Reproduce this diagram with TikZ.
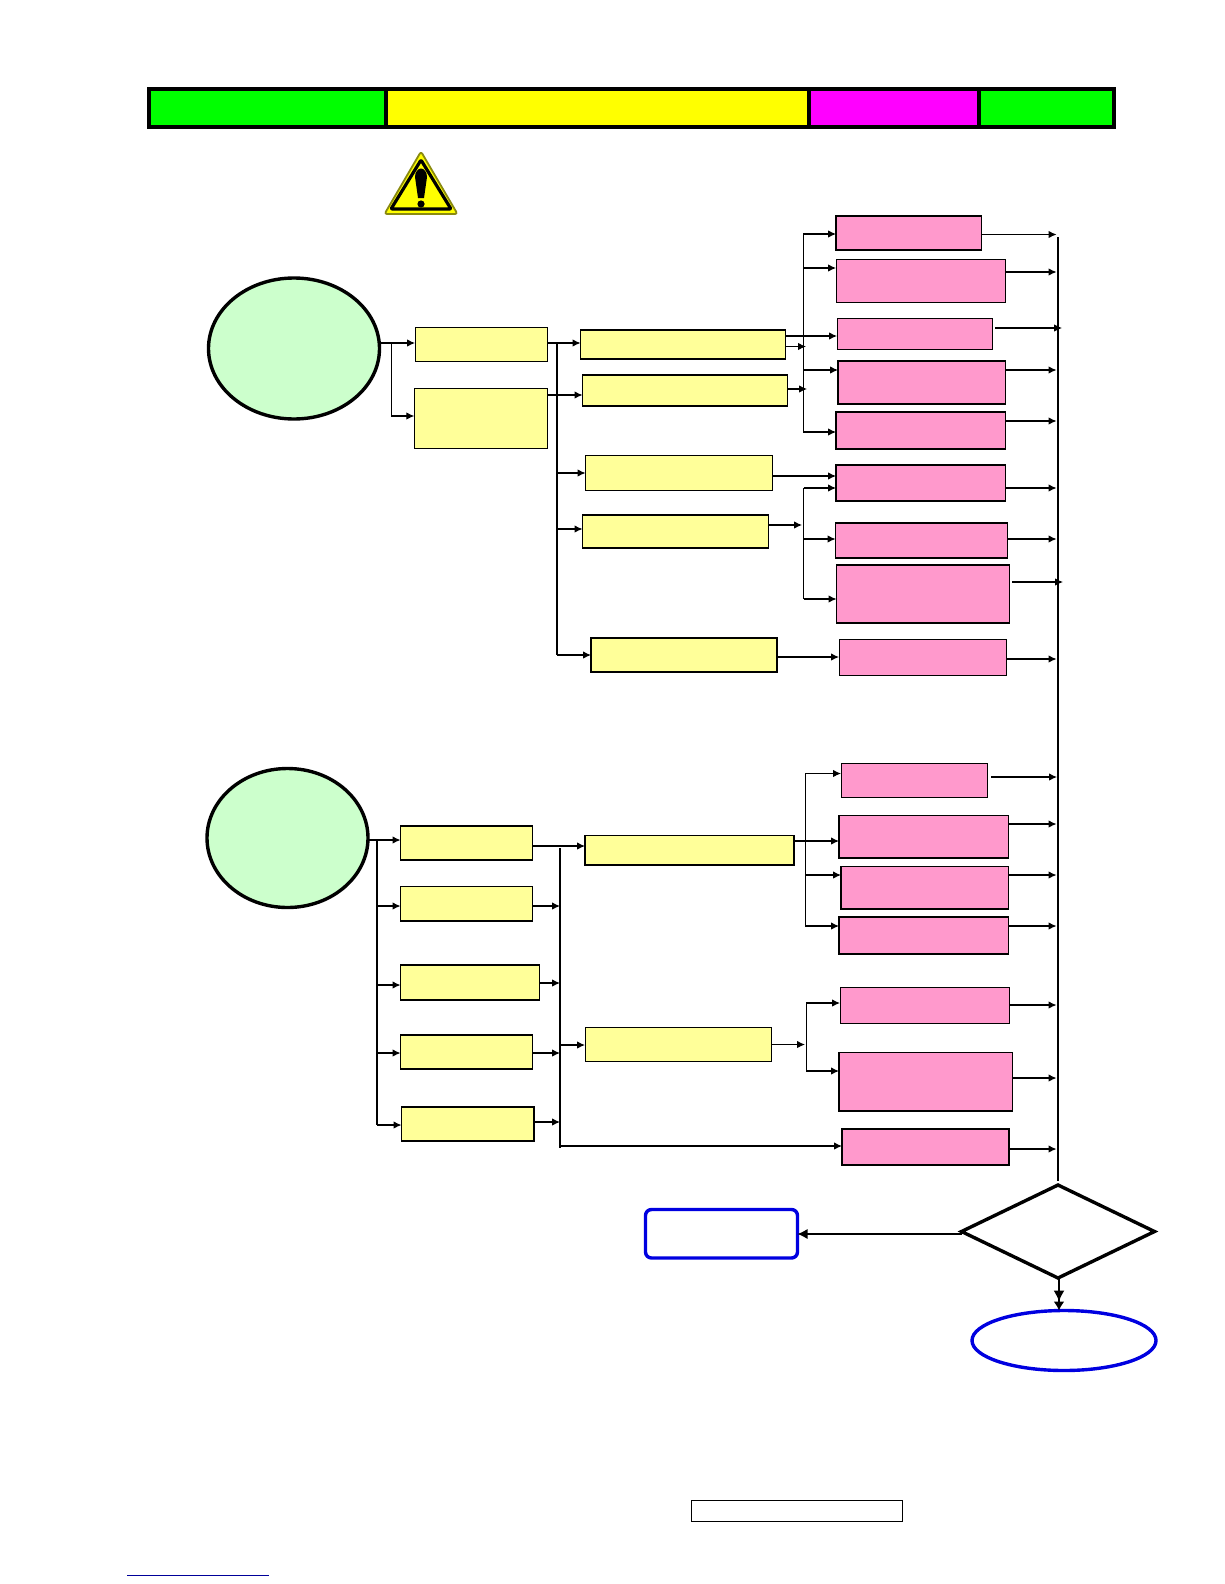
\documentclass[tikz,border=0pt]{standalone}
\usetikzlibrary{arrows.meta,shapes.geometric}
\definecolor{ybox}{HTML}{FFFF99}
\definecolor{pbox}{HTML}{FF99CC}
\definecolor{gell}{HTML}{CCFFCC}
\definecolor{hgreen}{HTML}{00FF00}
\definecolor{hyellow}{HTML}{FFFF00}
\definecolor{hmag}{HTML}{FF00FF}
\definecolor{bluel}{HTML}{0000E0}
\definecolor{navy2}{HTML}{000099}
\definecolor{olive2}{HTML}{8A8A10}
\tikzset{
  base/.style={draw=black,inner sep=0pt,outer sep=0pt},
  yt/.style={base,fill=ybox,line width=1pt},
  yk/.style={base,fill=ybox,line width=1.4pt},
  pt/.style={base,fill=pbox,line width=1pt},
  pk/.style={base,fill=pbox,line width=1.4pt},
  hcell/.style={inner sep=0pt,outer sep=0pt},
  arr/.style={line width=1.1pt,-{Latex[length=8pt,width=7.5pt]}},
  trunkthin/.style={line width=1pt},
  trunkthick/.style={line width=1.8pt},
  trunkmain/.style={line width=2.2pt},
  gellipse/.style={ellipse,draw=black,fill=gell,line width=3.4pt,inner sep=0pt,outer sep=0pt},
}
\newcommand{\mybox}[6]{%
  \pgfmathsetmacro\mybw{#5-#3}\pgfmathsetmacro\mybh{#6-#4}%
  \pgfmathsetmacro\mybx{(#3+#5)/2}\pgfmathsetmacro\myby{(#4+#6)/2}%
  \node[#1,minimum width=\mybw pt,minimum height=\mybh pt] (#2) at (\mybx,\myby) {};}
\newcommand{\conn}[3]{\draw[arr] (#1 |- 0,#3) -- (#2 |- 0,#3);}
\newcommand{\toM}[2]{\draw[arr,shorten >=1.5pt] (#1 |- 0,#2) -- (M |- 0,#2);}
\begin{document}
\begin{tikzpicture}[x=1pt,y=-1pt]
\useasboundingbox (0,0) rectangle (1224,1584);
% header bar
\mybox{hcell,fill=black}{hbar}{147}{87}{1116}{129}
\mybox{hcell,fill=hgreen}{h1}{151}{91}{384}{125}
\mybox{hcell,fill=hyellow}{h2}{388}{91}{807}{125}
\mybox{hcell,fill=hmag}{h3}{811}{91}{977}{125}
\mybox{hcell,fill=hgreen}{h4}{981}{91}{1112}{125}
% warning sign
\draw[fill=hyellow,draw=olive2,line width=1.8pt,line join=round,rounded corners=2.5pt] (421,151.5) -- (457.5,214) -- (384.5,214) -- cycle;
\draw[draw=black,line width=3.2pt,line join=round,rounded corners=1pt] (421,160) -- (451,209) -- (391,209) -- cycle;
\fill[black] (415,177) .. controls (415,172) and (418,168.5) .. (421,168.5) .. controls (424,168.5) and (427,172) .. (427,177) -- (424,198) -- (418,198) -- cycle;
\fill[black] (421,204) circle (3.6);
% top group
\node[gellipse,minimum width=171pt,minimum height=141pt] (E1) at (294,348.5) {};
\mybox{yt}{Y1}{415}{327}{547.3}{361}
\mybox{yt}{Y2}{414.3}{388}{547.3}{448}
\mybox{yk}{Y3}{580.5}{330}{785.5}{359}
\mybox{yk}{Y4}{582.5}{375}{787.5}{406}
\mybox{yt}{Y5}{585.5}{455}{772.5}{490}
\mybox{yk}{Y6}{582.5}{515}{768.5}{548}
\mybox{yk}{Y7}{591}{638}{777}{672}
\mybox{pk}{P1}{836}{216}{981.5}{250}
\mybox{pt}{P2}{836}{259.5}{1005.2}{302}
\mybox{pt}{P3}{837}{318}{992}{349}
\mybox{pk}{P4}{838}{361}{1005.5}{404}
\mybox{pk}{P5}{836}{412}{1005.5}{449}
\mybox{pk}{P6}{836}{465}{1005.5}{501}
\mybox{pk}{P7}{835.5}{523}{1007.5}{558}
\mybox{pk}{P8}{836.5}{565}{1009.5}{623}
\mybox{pt}{P9}{839}{639.5}{1006.5}{675}
% lower group
\node[gellipse,minimum width=161pt,minimum height=139pt] (E2) at (287.5,838) {};
\mybox{yk}{L1}{400.5}{826}{532.5}{860}
\mybox{yk}{L2}{400.5}{886.5}{532.5}{921}
\mybox{yk}{L3}{400.5}{965}{539.5}{1000}
\mybox{yk}{L4}{400.5}{1035}{532.5}{1069}
\mybox{yk}{L5}{401.5}{1107}{534}{1141}
\mybox{yk}{Y8}{585}{835.5}{794}{865}
\mybox{yt}{Y9}{585}{1027}{771.5}{1061}
\mybox{pt}{P10}{841}{763}{987.5}{797}
\mybox{pk}{P11}{839}{815.5}{1008.5}{858}
\mybox{pk}{P12}{841}{866.5}{1008.5}{909}
\mybox{pk}{P13}{839}{917}{1008.5}{954}
\mybox{pt}{P14}{840}{987}{1009.5}{1023}
\mybox{pk}{P15}{839}{1052.5}{1012.5}{1111}
\mybox{pk}{P16}{842}{1129}{1009}{1165}
% decision and terminals
\node[diamond,draw=black,line width=3.4pt,aspect=1.95,inner sep=0pt,outer sep=0pt,minimum width=193pt,minimum height=93pt] (D) at (1058,1231.5) {};
\mybox{draw=bluel,line width=3.4pt,rounded corners=6pt,inner sep=0pt,outer sep=0pt}{R}{645.5}{1209.5}{797.5}{1258}
\node[ellipse,draw=bluel,line width=3.4pt,inner sep=0pt,outer sep=0pt,minimum width=184pt,minimum height=60pt] (O) at (1064,1340.5) {};
\mybox{draw=black,line width=1pt,inner sep=0pt,outer sep=0pt}{S}{691}{1500}{902.5}{1521}
% trunks
\coordinate (M) at (1058,237);
\coordinate (Mb) at (1058,1181);
\draw[trunkmain] (M) -- (Mb);
\coordinate (T1a) at (557,343); \coordinate (T1b) at (557,655);
\draw[trunkthick] (T1a) -- (T1b);
\coordinate (T2a) at (803,234); \coordinate (T2b) at (803,432);
\draw[trunkthin] (T2a) -- (T2b);
\coordinate (T3a) at (803.5,488); \coordinate (T3b) at (803.5,599);
\draw[trunkthin] (T3a) -- (T3b);
\coordinate (T4a) at (377,840); \coordinate (T4b) at (377,1125);
\draw[trunkthick] (T4a) -- (T4b);
\coordinate (T5a) at (560,848); \coordinate (T5b) at (560,1148);
\draw[trunkthick] (T5a) -- (T5b);
\coordinate (T6a) at (805,773.5); \coordinate (T6b) at (805,926);
\draw[trunkthin] (T6a) -- (T6b);
\coordinate (T7a) at (806,1003); \coordinate (T7b) at (806,1071);
\draw[trunkthin] (T7a) -- (T7b);
% top connectors
\coordinate (B1) at (391,343); \coordinate (B1b) at (391,416);
\draw[arr] (E1.east |- 0,343) -- (Y1.west |- 0,343);
\draw[trunkthin] (B1) -- (B1b);
\draw[arr] (B1b) -- (Y2.west |- B1b);
\conn{Y1.east}{Y3.west}{343}
\conn{Y2.east}{Y4.west}{395}
\conn{T1a}{Y5.west}{473}
\conn{T1a}{Y6.west}{529}
\conn{T1a}{Y7.west}{655}
\conn{T2a}{P1.west}{234}
\conn{T2a}{P2.west}{268}
\conn{Y3.east}{P3.west}{336}
\coordinate (A3e) at (806,346.5);
\draw[arr] (Y3.east |- A3e) -- (A3e);
\coordinate (A4e) at (807,389);
\draw[arr] (Y4.east |- A4e) -- (A4e);
\conn{T2a}{P4.west}{370}
\conn{T2a}{P5.west}{432}
\conn{Y5.east}{P6.west}{476}
\conn{T3a}{P6.west}{488}
\coordinate (A6e) at (802,525);
\draw[arr] (Y6.east |- A6e) -- (A6e);
\conn{T3a}{P7.west}{539}
\conn{T3a}{P8.west}{599}
\conn{Y7.east}{P9.west}{657}
\toM{P1.east}{234.5}
\toM{P2.east}{272}
\coordinate (M3s) at (995,328); \coordinate (M3e) at (1062,328);
\draw[arr] (M3s) -- (M3e);
\toM{P4.east}{370}
\toM{P5.east}{421}
\toM{P6.east}{488}
\toM{P7.east}{539}
\coordinate (M8s) at (1012,582); \coordinate (M8e) at (1063,582);
\draw[arr] (M8s) -- (M8e);
\toM{P9.east}{659}
% lower connectors
\draw[arr] (E2.east |- 0,840) -- (L1.west |- 0,840);
\conn{T4a}{L2.west}{906}
\conn{T4a}{L3.west}{985}
\conn{T4a}{L4.west}{1053}
\conn{T4a}{L5.west}{1125}
\conn{L1.east}{Y8.west}{846}
\conn{L2.east}{T5a}{906}
\conn{L3.east}{T5a}{983}
\conn{L4.east}{T5a}{1053}
\conn{L5.east}{T5a}{1122}
\conn{T5a}{Y9.west}{1045}
\conn{T5a}{P16.west}{1146}
\conn{T6a}{P10.west}{773.5}
\conn{Y8.east}{P11.west}{841}
\conn{T6a}{P12.west}{875}
\conn{T6a}{P13.west}{926}
\coordinate (T7m) at (805,1044.5);
\draw[arr] (Y9.east |- T7m) -- (T7m);
\conn{T7a}{P14.west}{1003}
\conn{T7a}{P15.west}{1071}
\coordinate (M10s) at (991,777);
\draw[arr,shorten >=1pt] (M10s) -- (M |- M10s);
\toM{P11.east}{824}
\toM{P12.east}{875}
\toM{P13.east}{926}
\toM{P14.east}{1005}
\toM{P15.east}{1078}
\toM{P16.east}{1149}
% decision connectors
\draw[line width=1.1pt,-{Latex[length=10pt,width=10pt]}] (D.west |- 0,1234) -- (R.east |- 0,1234);
\coordinate (Dd) at (1059,1278);
\draw[line width=1.6pt,-{Latex[length=11pt,width=11pt]Latex[length=9pt,width=11pt]}] (Dd) -- (O.north -| Dd);
% footer link rule
\coordinate (U1) at (127,1575); \coordinate (U2) at (269,1575);
\draw[draw=navy2,line width=1pt] (U1) -- (U2);
\end{tikzpicture}
\end{document}
